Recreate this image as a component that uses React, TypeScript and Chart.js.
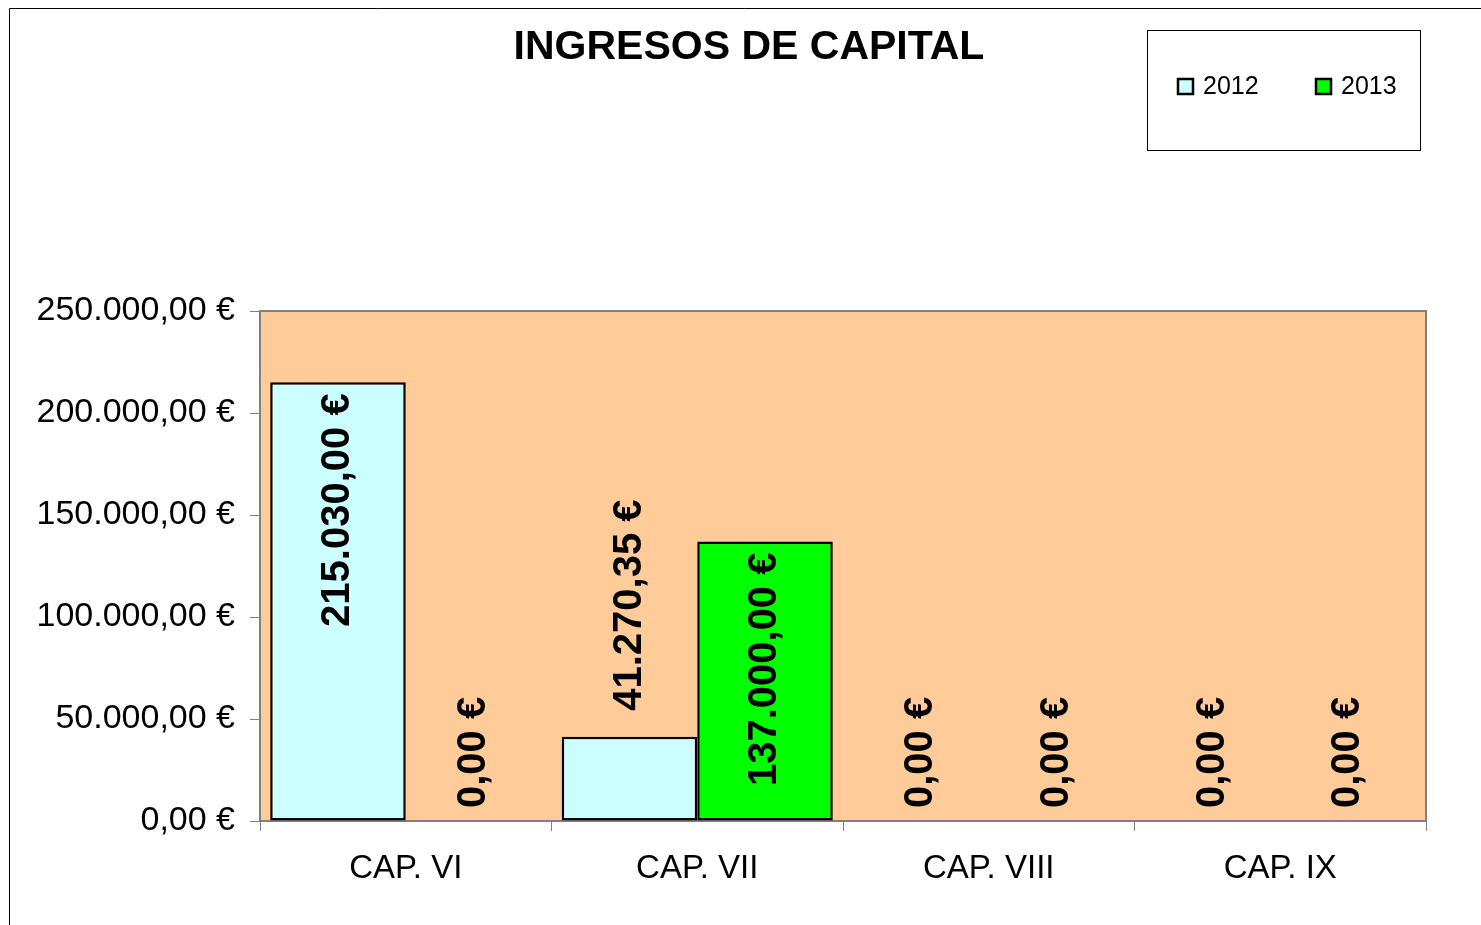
import React, { useEffect, useRef } from "react";
import { Chart, registerables } from "chart.js";

Chart.register(...registerables);

const TITLE = "INGRESOS DE CAPITAL";
const categories = ["CAP. VI", "CAP. VII", "CAP. VIII", "CAP. IX"];
const seriesNames = ["2012", "2013"];
const values2012 = [215030.0, 41270.35, 0, 0];
const values2013 = [0, 137000.0, 0, 0];
const yTicks = [0, 50000, 100000, 150000, 200000, 250000];
const seriesColors = ["#CCFFFF", "#00FF00"];

const FONT = "'Liberation Sans', Arial, Helvetica, sans-serif";

function formatEuro(v: number): string {
  const fixed = Math.abs(v).toFixed(2);
  const [intPart, dec] = fixed.split(".");
  const grouped = intPart.replace(/\B(?=(\d{3})+(?!\d))/g, ".");
  return (v < 0 ? "-" : "") + grouped + "," + dec + " €";
}

const decorPlugin = {
  id: "decor",
  beforeDraw(chart: any) {
    const { ctx, chartArea } = chart;
    ctx.save();
    ctx.fillStyle = "#FFFFFF";
    ctx.fillRect(0, 0, chart.width, chart.height);
    ctx.fillStyle = "#FFCC99";
    ctx.fillRect(chartArea.left, chartArea.top, chartArea.right - chartArea.left, chartArea.bottom - chartArea.top);
    ctx.restore();
  },
  afterDraw(chart: any) {
    const { ctx, chartArea } = chart;
    ctx.save();
    // plot border (top & right)
    ctx.strokeStyle = "#808080";
    ctx.lineWidth = 2;
    ctx.beginPath();
    ctx.moveTo(chartArea.left, chartArea.top);
    ctx.lineTo(chartArea.right, chartArea.top);
    ctx.lineTo(chartArea.right, chartArea.bottom);
    ctx.stroke();

    // outer chart border
    ctx.strokeStyle = "#000000";
    ctx.lineWidth = 1;
    ctx.beginPath();
    ctx.moveTo(9.5, chart.height);
    ctx.lineTo(9.5, 8.5);
    ctx.lineTo(chart.width, 8.5);
    ctx.stroke();

    // title
    ctx.fillStyle = "#000000";
    ctx.font = `bold 41px ${FONT}`;
    ctx.textAlign = "center";
    ctx.textBaseline = "middle";
    ctx.fillText(TITLE, 749, 48);

    // legend box
    ctx.strokeStyle = "#000000";
    ctx.lineWidth = 1;
    ctx.strokeRect(1147.5, 30.5, 273, 120);
    const items = [
      { x: 1178, label: seriesNames[0], color: seriesColors[0] },
      { x: 1316, label: seriesNames[1], color: seriesColors[1] },
    ];
    ctx.font = `25px ${FONT}`;
    ctx.textAlign = "left";
    items.forEach((it) => {
      ctx.fillStyle = it.color;
      ctx.fillRect(it.x, 79, 15, 15);
      ctx.lineWidth = 2.5;
      ctx.strokeStyle = "#000000";
      ctx.strokeRect(it.x, 79, 15, 15);
      ctx.fillStyle = "#000000";
      ctx.fillText(it.label, it.x + 25, 87);
    });

    // data labels
    ctx.font = `bold 40px ${FONT}`;
    ctx.fillStyle = "#000000";
    ctx.textBaseline = "middle";
    chart.data.datasets.forEach((ds: any, di: number) => {
      const meta = chart.getDatasetMeta(di);
      meta.data.forEach((bar: any, i: number) => {
        const v = ds.data[i];
        const text = formatEuro(v);
        const w = ctx.measureText(text).width;
        const barTop = bar.y;
        const barBottom = bar.base;
        const h = barBottom - barTop;
        ctx.save();
        ctx.translate(bar.x, 0);
        ctx.rotate(-Math.PI / 2);
        const insidePad = 11;
        if (h >= w + 2 * insidePad) {
          ctx.textAlign = "right";
          ctx.fillText(text, -(barTop + insidePad), 0);
        } else {
          const pad = v === 0 ? 13 : 26;
          ctx.textAlign = "left";
          ctx.fillText(text, -(barTop - pad), 0);
        }
        ctx.restore();
      });
    });
    ctx.restore();
  },
};

export default function App() {
  const canvasRef = useRef<HTMLCanvasElement | null>(null);

  useEffect(() => {
    if (!canvasRef.current) return;
    const chart = new Chart(canvasRef.current, {
      type: "bar",
      data: {
        labels: categories,
        datasets: [
          {
            label: seriesNames[0],
            data: values2012,
            backgroundColor: seriesColors[0],
            borderColor: "#000000",
            borderWidth: (c: any) => (c.raw === 0 ? 0 : 2.5),
            borderSkipped: false,
          },
          {
            label: seriesNames[1],
            data: values2013,
            backgroundColor: seriesColors[1],
            borderColor: "#000000",
            borderWidth: (c: any) => (c.raw === 0 ? 0 : 2.5),
            borderSkipped: false,
          },
        ],
      },
      options: {
        responsive: false,
        animation: false,
        devicePixelRatio: 1,
        layout: { padding: { top: 311, right: 55, left: 0, bottom: 0 } },
        datasets: {
          bar: { categoryPercentage: 0.93, barPercentage: 1.0 },
        },
        plugins: {
          legend: { display: false },
          title: { display: false },
          tooltip: { enabled: false },
        },
        scales: {
          x: {
            grid: {
              display: true,
              offset: true,
              drawOnChartArea: false,
              drawTicks: true,
              tickLength: 10,
              color: "#808080",
              lineWidth: 1,
            },
            border: { display: true, color: "#808080", width: 2 },
            ticks: {
              color: "#000000",
              font: { family: FONT, size: 33 },
              padding: 18,
              maxRotation: 0,
            },
            afterFit: (scale: any) => {
              scale.height = 104;
            },
          },
          y: {
            min: 0,
            max: 250000,
            afterBuildTicks: (scale: any) => {
              scale.ticks = yTicks.map((v) => ({ value: v }));
            },
            grid: {
              display: true,
              drawOnChartArea: false,
              drawTicks: true,
              tickLength: 10,
              color: "#808080",
              lineWidth: 1,
            },
            border: { display: true, color: "#808080", width: 2 },
            ticks: {
              color: "#000000",
              font: { family: FONT, size: 34 },
              padding: 15,
              callback: (v: any) => formatEuro(Number(v)),
            },
            afterFit: (scale: any) => {
              scale.width = 260;
            },
          },
        },
      },
      plugins: [decorPlugin],
    });
    return () => chart.destroy();
  }, []);

  return (
    <div style={{ position: "fixed", left: 0, top: 0, width: 1481, height: 925, background: "#fff" }}>
      <canvas ref={canvasRef} width={1481} height={925} style={{ display: "block" }} />
    </div>
  );
}
